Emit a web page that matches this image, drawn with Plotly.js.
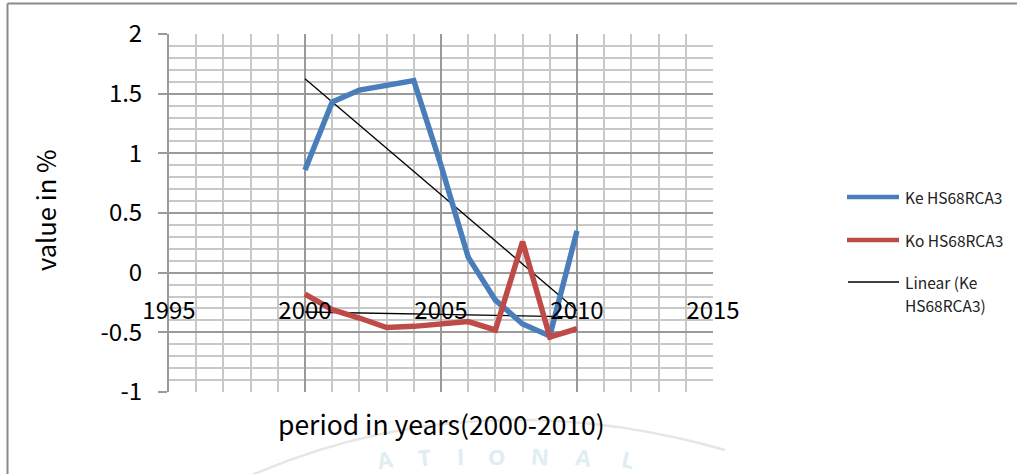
<!DOCTYPE html>
<html>
<head>
<meta charset="utf-8">
<script src="https://cdn.plot.ly/plotly-3.0.1.min.js"></script>
<style>
  html, body { margin: 0; padding: 0; background: #ffffff; }
  #chart { width: 1017px; height: 474px; }
</style>
</head>
<body>
<div id="chart"></div>
<script>
// Annual values (%) for 2000-2010
const years = [2000, 2001, 2002, 2003, 2004, 2005, 2006, 2007, 2008, 2009, 2010];
const keValues = [0.86, 1.43, 1.53, 1.57, 1.61, 0.90, 0.13, -0.23, -0.43, -0.53, 0.35];
const koValues = [-0.18, -0.31, -0.38, -0.46, -0.45, -0.43, -0.41, -0.48, 0.26, -0.54, -0.47];

const seriesNames = ['Ke HS68RCA3', 'Ko HS68RCA3'];
const trendLabel = ['Linear (Ke', 'HS68RCA3)'];
const xTitle = 'period in years(2000-2010)';
const yTitle = 'value in %';

// axis labels (plain hyphen for negatives)
const xTickVals = [1995, 2000, 2005, 2010, 2015];
const xTickText = ['1995', '2000', '2005', '2010', '2015'];
const yTickVals = [-1, -0.5, 0, 0.5, 1, 1.5, 2];
const yTickText = ['-1', '-0.5', '0', '0.5', '1', '1.5', '2'];

// faint seal lettering along the lower edge
const sealLetters = ['A', 'T', 'I', 'O', 'N', 'A', 'L'];

const BLUE = '#4A7EBB';
const RED = '#BE4B48';
const FONT = '"Noto Sans CJK KR", "Noto Sans", "Open Sans", sans-serif';

// Least-squares straight line through a series
function linearFit(xs, ys) {
  const n = xs.length;
  const mx = xs.reduce((a, b) => a + b, 0) / n;
  const my = ys.reduce((a, b) => a + b, 0) / n;
  let sxy = 0, sxx = 0;
  for (let i = 0; i < n; i++) {
    sxy += (xs[i] - mx) * (ys[i] - my);
    sxx += (xs[i] - mx) * (xs[i] - mx);
  }
  const slope = sxy / sxx;
  const x0 = xs[0], x1 = xs[n - 1];
  return { x: [x0, x1], y: [my + slope * (x0 - mx), my + slope * (x1 - mx)] };
}

const keTrend = linearFit(years, keValues);
const koTrend = linearFit(years, koValues);

const traces = [
  { x: keTrend.x, y: keTrend.y, mode: 'lines', line: { color: '#000000', width: 1.3 }, hoverinfo: 'skip' },
  { x: koTrend.x, y: koTrend.y, mode: 'lines', line: { color: '#000000', width: 1.3 }, hoverinfo: 'skip' },
  { x: years, y: keValues, name: seriesNames[0], mode: 'lines', line: { color: BLUE, width: 5.5 } },
  { x: years, y: koValues, name: seriesNames[1], mode: 'lines', line: { color: RED, width: 5.5 } }
];

// plot area in pixels: left 169, right 713, top 34, bottom 392
const PL = 169, PR = 713, PT = 34, PB = 392;
const px = v => (v - PL) / (PR - PL);
const py = v => (PB - v) / (PB - PT);

const shapes = [
  // seal outline (faint arc)
  { type: 'path', xref: 'paper', yref: 'paper', layer: 'below',
    path: 'M ' + px(245) + ',' + py(478) + ' Q ' + px(470) + ',' + py(378) + ' ' + px(725) + ',' + py(450),
    line: { color: '#e6e6e6', width: 2.5 } },
  // outer frame (top and left edges)
  { type: 'line', xref: 'paper', yref: 'paper', x0: px(7.5), x1: px(1017), y0: py(3.5), y1: py(3.5),
    line: { color: '#8a8a8a', width: 2 } },
  { type: 'line', xref: 'paper', yref: 'paper', x0: px(7.5), x1: px(7.5), y0: py(3.5), y1: py(474),
    line: { color: '#8a8a8a', width: 2 } },
  // legend keys
  { type: 'line', xref: 'paper', yref: 'paper', x0: px(847), x1: px(899), y0: py(197), y1: py(197),
    line: { color: BLUE, width: 4.5 } },
  { type: 'line', xref: 'paper', yref: 'paper', x0: px(847), x1: px(899), y0: py(240), y1: py(240),
    line: { color: RED, width: 4.5 } },
  { type: 'line', xref: 'paper', yref: 'paper', x0: px(848), x1: px(899), y0: py(282), y1: py(282),
    line: { color: '#000000', width: 1.3 } }
];

const legendFont = { family: FONT, size: 15.5, color: '#222222' };
const annotations = [
  { text: xTitle, xref: 'paper', yref: 'paper', x: px(441), y: py(423), showarrow: false,
    xanchor: 'center', yanchor: 'middle', font: { family: FONT, size: 26.5, color: '#000000' } },
  { text: yTitle, xref: 'paper', yref: 'paper', x: px(45), y: py(211), showarrow: false, textangle: -90,
    xanchor: 'center', yanchor: 'middle', font: { family: FONT, size: 25.5, color: '#000000' } },
  { text: seriesNames[0], xref: 'paper', yref: 'paper', x: px(903), y: py(197), showarrow: false,
    xanchor: 'left', yanchor: 'middle', font: legendFont },
  { text: seriesNames[1], xref: 'paper', yref: 'paper', x: px(903), y: py(240), showarrow: false,
    xanchor: 'left', yanchor: 'middle', font: legendFont },
  { text: trendLabel[0], xref: 'paper', yref: 'paper', x: px(903), y: py(282), showarrow: false,
    xanchor: 'left', yanchor: 'middle', font: legendFont },
  { text: trendLabel[1], xref: 'paper', yref: 'paper', x: px(903), y: py(305), showarrow: false,
    xanchor: 'left', yanchor: 'middle', font: legendFont }
];

// seal letters: centre x, centre y (pixels) and tilt
const sealPos = [[385, 459, -10], [424, 457, -6], [460, 456, -2], [497, 456, 0], [540, 456, 4], [584, 457, 8], [628, 459, 12]];
sealLetters.forEach((ch, i) => {
  annotations.push({
    text: '<b>' + ch + '</b>', xref: 'paper', yref: 'paper', x: px(sealPos[i][0]), y: py(sealPos[i][1]),
    showarrow: false, xanchor: 'center', yanchor: 'middle', textangle: sealPos[i][2],
    font: { family: '"Open Sans", sans-serif', size: 22, color: '#e0edf1' }
  });
});

const layout = {
  width: 1017,
  height: 474,
  margin: { l: PL, r: 1017 - PR, t: PT, b: 474 - PB, pad: 0 },
  paper_bgcolor: '#ffffff',
  plot_bgcolor: '#ffffff',
  showlegend: false,
  font: { family: FONT, size: 24, color: '#000000' },
  xaxis: {
    range: [1995, 2015],
    tickmode: 'array',
    tickvals: xTickVals,
    ticktext: xTickText,
    showgrid: true,
    gridcolor: '#9a9a9a',
    gridwidth: 2,
    minor: { tickmode: 'linear', tick0: 1995, dtick: 1, showgrid: true, gridcolor: '#c8c8c8', gridwidth: 2 },
    zeroline: false,
    showline: false,
    ticks: '',
    anchor: 'free',
    position: 1 / 3,
    ticklabelstandoff: 21,
    tickfont: { family: FONT, size: 24, color: '#000000' },
    fixedrange: true
  },
  yaxis: {
    range: [-1, 2],
    tickmode: 'array',
    tickvals: yTickVals,
    ticktext: yTickText,
    showgrid: true,
    gridcolor: '#9a9a9a',
    gridwidth: 2,
    minor: { tickmode: 'linear', tick0: 0, dtick: 0.1, showgrid: true, gridcolor: '#c8c8c8', gridwidth: 2 },
    zeroline: false,
    showline: true,
    linecolor: '#9a9a9a',
    linewidth: 2,
    ticks: 'outside',
    ticklen: 9,
    tickwidth: 2,
    tickcolor: '#9a9a9a',
    ticklabelstandoff: 11,
    tickfont: { family: FONT, size: 24, color: '#000000' },
    fixedrange: true
  },
  shapes: shapes,
  annotations: annotations
};

Plotly.newPlot('chart', traces, layout, { displayModeBar: false, staticPlot: true });
</script>
</body>
</html>
